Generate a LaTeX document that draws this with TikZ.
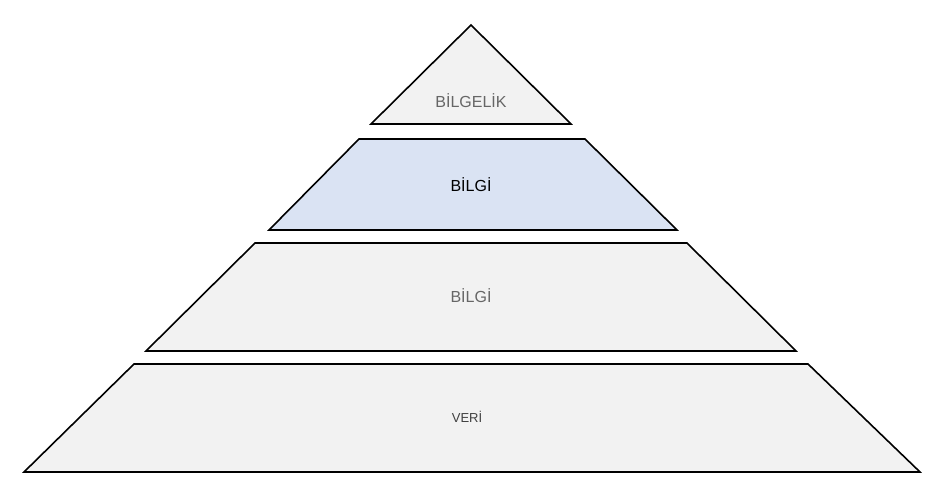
\documentclass[tikz,border=0pt]{standalone}
\usepackage{fontspec}
\setmainfont{Liberation Sans}
\begin{document}
\begin{tikzpicture}[x=1pt,y=-1pt,
  layer/.style={draw=black,line width=1.6pt,line join=miter},
  lbl/.style={font=\fontsize{16}{18}\selectfont}]
\definecolor{lg}{HTML}{F2F2F2}
\definecolor{lb}{HTML}{DAE3F3}
\useasboundingbox (0,0) rectangle (945,479);
\draw[layer,fill=lg] (471,25) -- (571,124) -- (371,124) -- cycle;
\draw[layer,fill=lb] (359,139) -- (585,139) -- (677,230) -- (269,230) -- cycle;
\draw[layer,fill=lg] (255,243) -- (687,243) -- (796,351) -- (146,351) -- cycle;
\draw[layer,fill=lg] (134,364) -- (808,364) -- (920,472) -- (24,472) -- cycle;
\node[lbl,text=black!60] (t1) at (471,101) {BİLGELİK};
\node[lbl,text=black] (t2) at (471,185) {BİLGİ};
\node[lbl,text=black!60] (t3) at (471,296) {BİLGİ};
\node[font=\fontsize{13}{15}\selectfont,text=black!75] (t4) at (467,417) {VERİ};
\end{tikzpicture}
\end{document}
